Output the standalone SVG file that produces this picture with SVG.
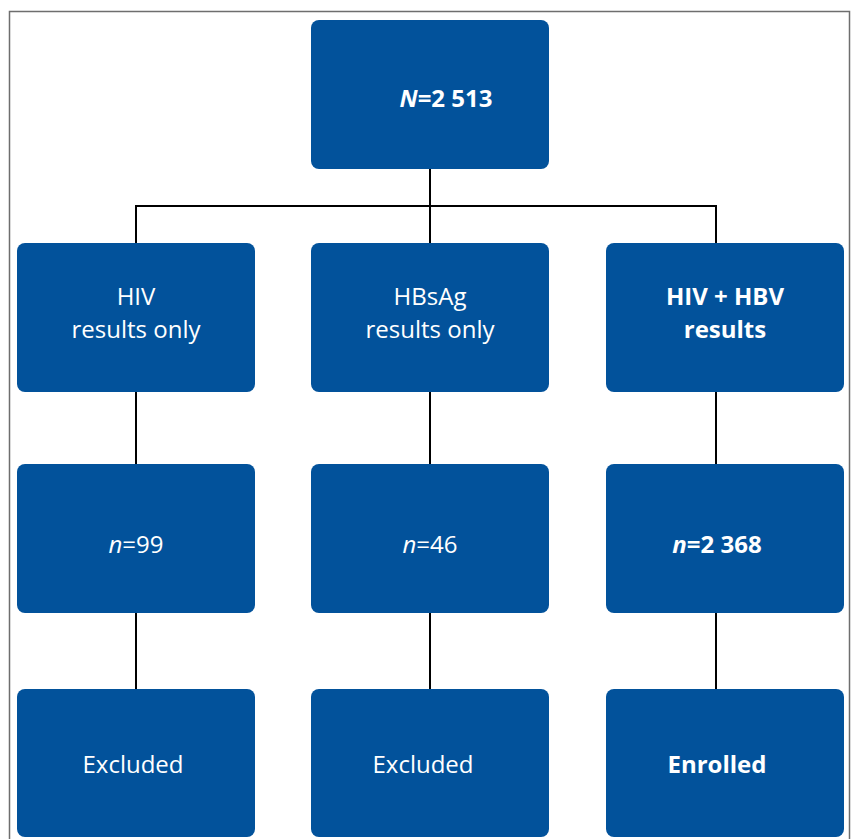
<svg xmlns="http://www.w3.org/2000/svg" width="856" height="839" viewBox="0 0 856 839">
<style>
.box{fill:#02529b;}
.t{font-family:"Open Sans","Noto Sans","Liberation Sans",sans-serif;font-size:24px;fill:#ffffff;text-anchor:middle;}
.b{font-weight:bold;}
.i{font-style:italic;}
.c{stroke:#000;stroke-width:2;fill:none;}
</style>
<rect x="9.5" y="11.5" width="840" height="840" fill="#fff" stroke="#6e6e6e" stroke-width="1.5"/>
<g id="connectors">
<line class="c" x1="430" y1="169" x2="430" y2="243"/>
<polyline class="c" points="136,243 136,206 716,206 716,243"/>
<line class="c" x1="136" y1="392" x2="136" y2="464"/>
<line class="c" x1="430" y1="392" x2="430" y2="464"/>
<line class="c" x1="716" y1="392" x2="716" y2="464"/>
<line class="c" x1="136" y1="613" x2="136" y2="689"/>
<line class="c" x1="430" y1="613" x2="430" y2="689"/>
<line class="c" x1="716" y1="613" x2="716" y2="689"/>
</g>
<g id="total"><rect class="box" x="311" y="20" width="238" height="149" rx="8"/><text class="t b" x="446" y="107"><tspan class="i">N</tspan>=2 513</text></g>
<g id="hiv"><rect class="box" x="17" y="243" width="238" height="149" rx="8"/><text class="t" x="136" y="305">HIV</text><text class="t" x="136" y="338">results only</text></g>
<g id="hbsag"><rect class="box" x="311" y="243" width="238" height="149" rx="8"/><text class="t" x="430" y="305">HBsAg</text><text class="t" x="430" y="338">results only</text></g>
<g id="both"><rect class="box" x="606" y="243" width="238" height="149" rx="8"/><text class="t b" x="725" y="305">HIV + HBV</text><text class="t b" x="725" y="338">results</text></g>
<g id="n99"><rect class="box" x="17" y="464" width="238" height="149" rx="8"/><text class="t" x="136" y="553"><tspan class="i">n</tspan>=99</text></g>
<g id="n46"><rect class="box" x="311" y="464" width="238" height="149" rx="8"/><text class="t" x="430" y="553"><tspan class="i">n</tspan>=46</text></g>
<g id="n2368"><rect class="box" x="606" y="464" width="238" height="149" rx="8"/><text class="t b" x="717" y="553"><tspan class="i">n</tspan>=2 368</text></g>
<g id="excl1"><rect class="box" x="17" y="689" width="238" height="148" rx="8"/><text class="t" x="133" y="773">Excluded</text></g>
<g id="excl2"><rect class="box" x="311" y="689" width="238" height="148" rx="8"/><text class="t" x="423" y="773">Excluded</text></g>
<g id="enrolled"><rect class="box" x="606" y="689" width="238" height="148" rx="8"/><text class="t b" x="717" y="773">Enrolled</text></g>
</svg>
